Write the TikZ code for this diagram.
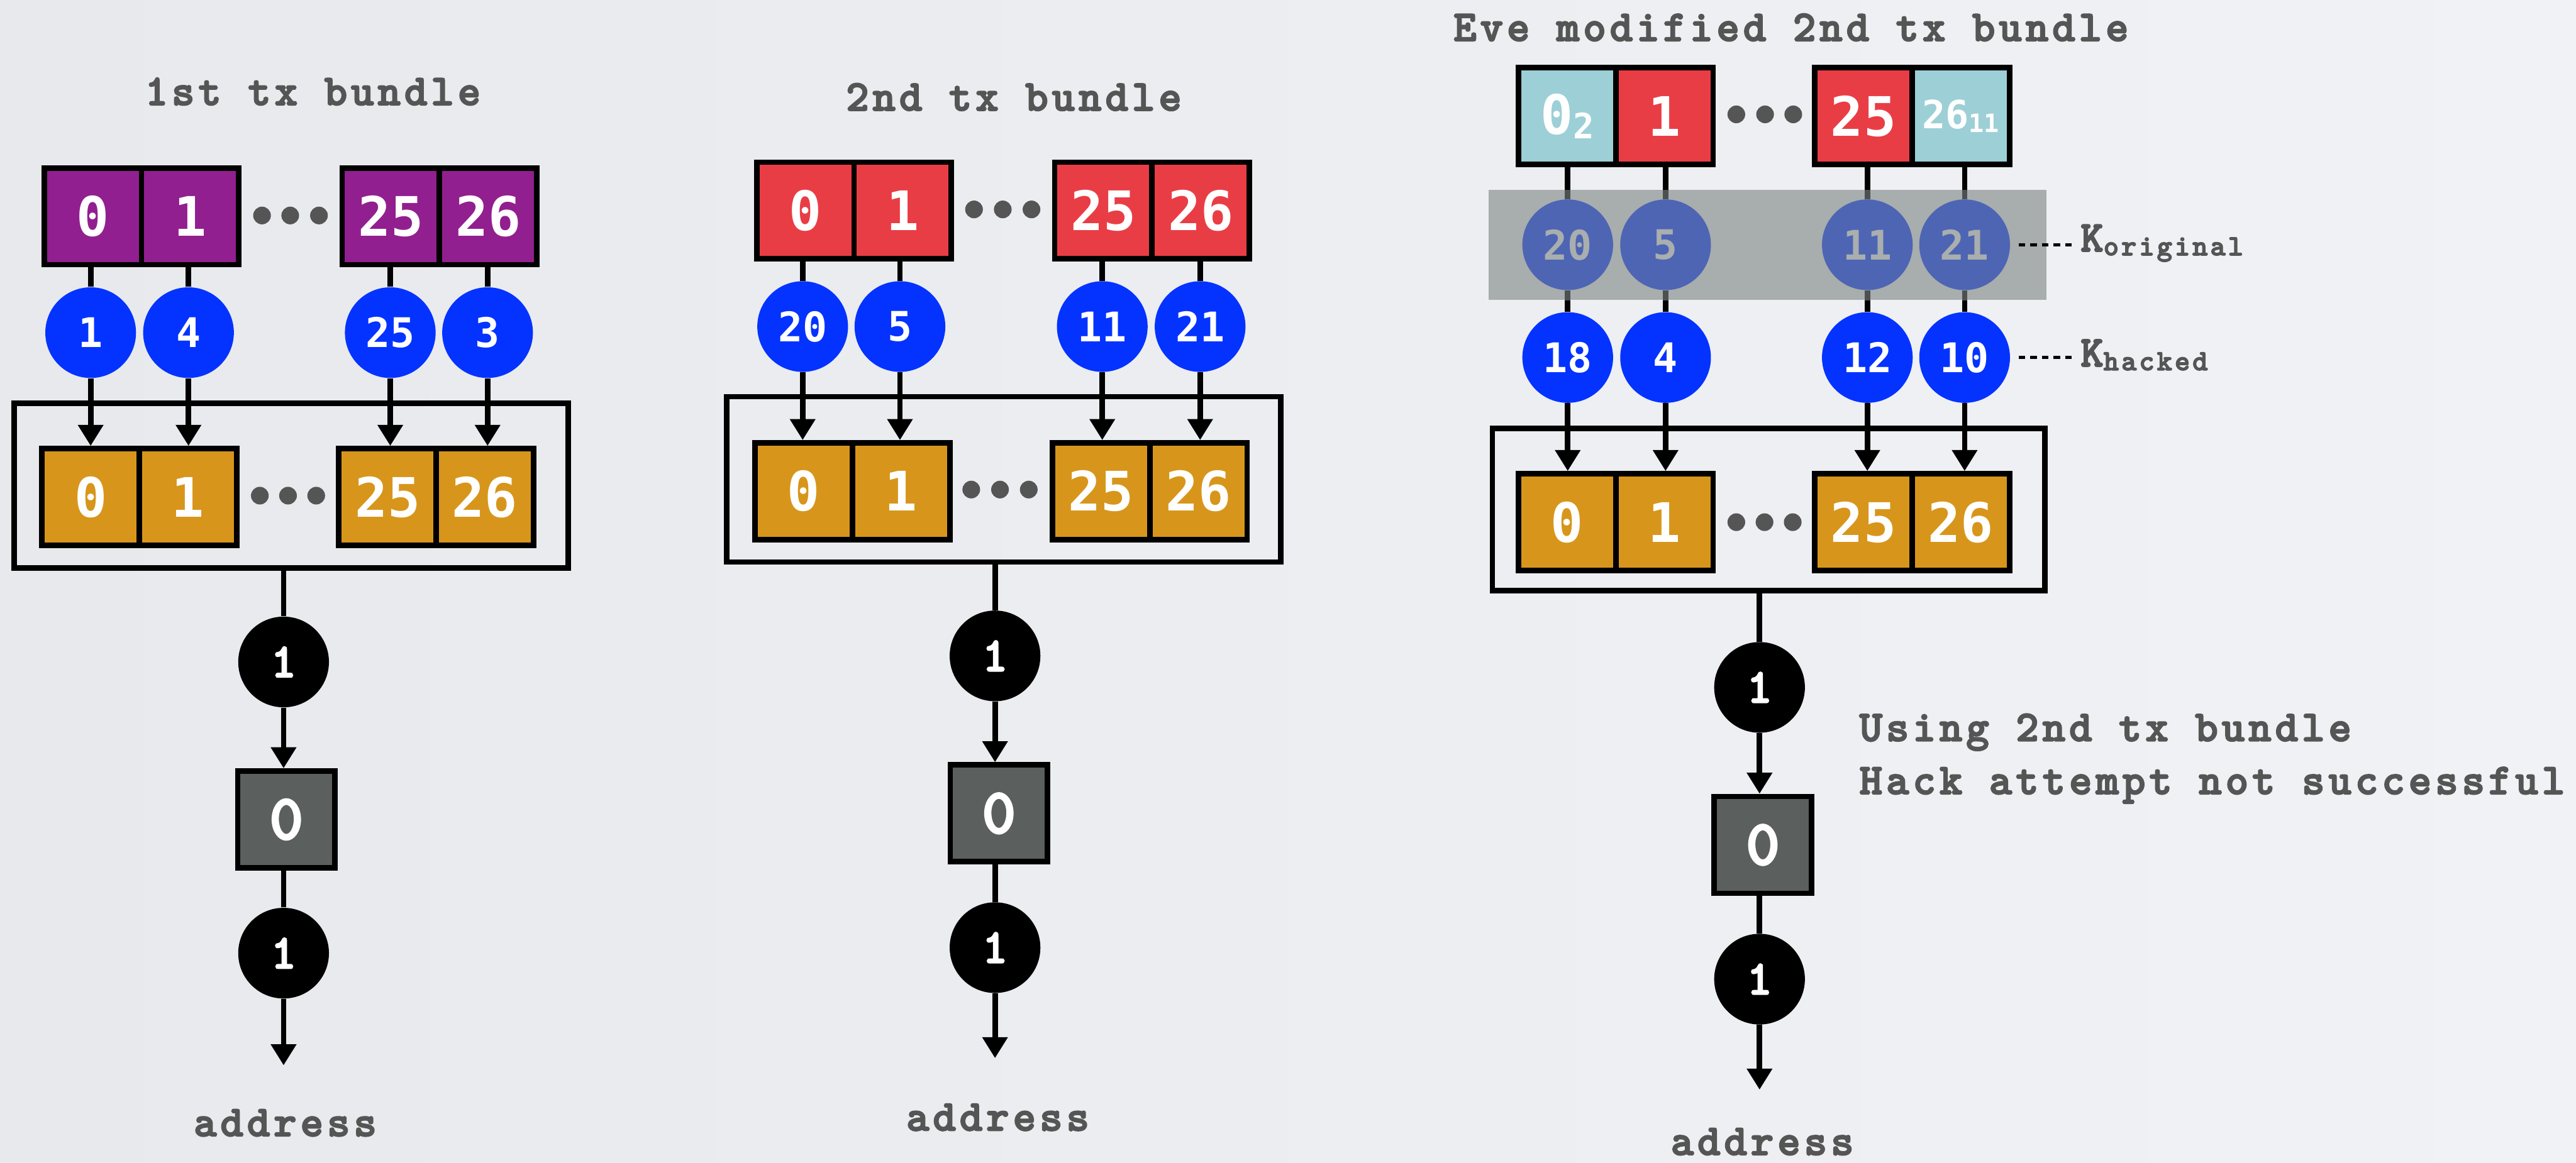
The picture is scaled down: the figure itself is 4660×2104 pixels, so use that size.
\documentclass[tikz,border=0pt]{standalone}
\usepackage{fontspec}
\newfontfamily\numfont{DejaVu Sans Mono}
\newfontfamily\typefont{lmmonolt10-bold.otf}[LetterSpace=8.5, FakeBold=3]
\usetikzlibrary{arrows.meta}

\definecolor{bgleft}{HTML}{E7E9ED}
\definecolor{bgright}{HTML}{F1F2F5}
\definecolor{cpurple}{HTML}{921F8F}
\definecolor{cred}{HTML}{E93D45}
\definecolor{corange}{HTML}{D7961B}
\definecolor{ccyan}{HTML}{9DCFD6}
\definecolor{cblue}{HTML}{0433FF}
\definecolor{cfade}{HTML}{4E65B4}
\definecolor{cfadetext}{HTML}{A9AEAE}
\definecolor{cband}{HTML}{A8ADAD}
\definecolor{cbandline}{HTML}{4D5050}
\definecolor{cgreybox}{HTML}{5B5F5E}
\definecolor{ctext}{HTML}{555555}

\pgfdeclarelayer{bg}
\pgfdeclarelayer{edges}
\pgfdeclarelayer{shade}
\pgfdeclarelayer{shadeedges}
\pgfsetlayers{bg,edges,shade,shadeedges,main}

\tikzset{
  cell/.style={draw=black, line width=0.1cm, minimum width=1.76cm, minimum height=1.75cm,
    inner sep=0pt, text=white, font=\numfont\bfseries\fontsize{28}{30}\selectfont},
  purplecell/.style={cell, fill=cpurple},
  redcell/.style={cell, fill=cred},
  orangecell/.style={cell, fill=corange},
  cyancell/.style={cell, fill=ccyan},
  keycirc/.style={circle, minimum size=1.64cm, inner sep=0pt, fill=cblue, text=white,
    font=\numfont\bfseries\fontsize{21}{24}\selectfont},
  oldkey/.style={keycirc, fill=cfade, text=cfadetext},
  bitcirc/.style={circle, minimum size=1.64cm, inner sep=0pt, fill=black, text=white,
    font=\typefont\fontsize{25}{27}\selectfont},
  outbox/.style={draw=black, line width=0.1cm, fill=cgreybox, minimum width=1.76cm,
    minimum height=1.75cm, inner sep=0pt, text=white,
    font=\typefont\fontsize{33}{35}\selectfont},
  bundlebox/.style={draw=black, line width=0.1cm, inner sep=0pt},
  ellipsisdot/.style={circle, fill=ctext, minimum size=0.32cm, inner sep=0pt},
  caption/.style={text=ctext, font=\typefont\fontsize{22.5}{27}\selectfont, inner sep=0pt},
  link/.style={line width=0.1cm},
  flow/.style={link, -{Triangle[width=0.44cm,length=0.38cm]}},
  keyline/.style={line width=0.06cm, dash pattern=on 0.12cm off 0.09cm},
}

\begin{document}
\begin{tikzpicture}[x=0.01cm, y=-0.01cm]
\useasboundingbox (0,0) rectangle (4660,2104);
\begin{pgfonlayer}{bg}
  \shade[left color=bgleft, right color=bgright] (0,0) rectangle (4660,2104);
\end{pgfonlayer}

% ---------------- first bundle ----------------
\node[caption, anchor=base] (title1) at (566,190) {1st tx bundle};

\node[purplecell] (t1a) at (168,391.5) {0};
\node[purplecell] (t1b) at (344,391.5) {1};
\node[purplecell] (t1c) at (707,391.5) {25};
\node[purplecell] (t1d) at (883,391.5) {26};
\node[ellipsisdot] (t1x) at (474,390) {};
\node[ellipsisdot] (t1y) at (525,390) {};
\node[ellipsisdot] (t1z) at (577,390) {};

\node[keycirc] (k1a) at (164,602) {1};
\node[keycirc] (k1b) at (341,602) {4};
\node[keycirc] (k1c) at (706,602) {25};
\node[keycirc] (k1d) at (882,602) {3};

\node[bundlebox, minimum width=10.02cm, minimum height=2.98cm] (f1) at (527,879) {};
\node[orangecell] (o1a) at (164,899.5) {0};
\node[orangecell] (o1b) at (340,899.5) {1};
\node[orangecell] (o1c) at (701,899.5) {25};
\node[orangecell] (o1d) at (877,899.5) {26};
\node[ellipsisdot] (o1x) at (470,897) {};
\node[ellipsisdot] (o1y) at (521,897) {};
\node[ellipsisdot] (o1z) at (572,897) {};

\node[bitcirc] (b1a) at (513,1198) {1};
\node[outbox] (g1) at (518,1483) {0};
\node[bitcirc] (b1b) at (513,1725) {1};
\coordinate (e1) at (513,1928);
\node[caption, anchor=base] (addr1) at (516,2056) {address};

% ---------------- second bundle ----------------
\node[caption, anchor=base] (title2) at (1834,200) {2nd tx bundle};

\node[redcell] (t2a) at (1457,381) {0};
\node[redcell] (t2b) at (1633,381) {1};
\node[redcell] (t2c) at (1996,381) {25};
\node[redcell] (t2d) at (2172,381) {26};
\node[ellipsisdot] (t2x) at (1762,379) {};
\node[ellipsisdot] (t2y) at (1814,379) {};
\node[ellipsisdot] (t2z) at (1866,379) {};

\node[keycirc] (k2a) at (1452,591) {20};
\node[keycirc] (k2b) at (1628,591) {5};
\node[keycirc] (k2c) at (1994,591) {11};
\node[keycirc] (k2d) at (2171,591) {21};

\node[bundlebox, minimum width=10.02cm, minimum height=2.99cm] (f2) at (1816,867.5) {};
\node[orangecell] (o2a) at (1454,889) {0};
\node[orangecell] (o2b) at (1630,889) {1};
\node[orangecell] (o2c) at (1992,889) {25};
\node[orangecell] (o2d) at (2168,889) {26};
\node[ellipsisdot] (o2x) at (1757,886) {};
\node[ellipsisdot] (o2y) at (1809,886) {};
\node[ellipsisdot] (o2z) at (1861,886) {};

\node[bitcirc] (b2a) at (1800,1187) {1};
\node[outbox] (g2) at (1807,1472) {0};
\node[bitcirc] (b2b) at (1800,1715) {1};
\coordinate (e2) at (1800,1915);
\node[caption, anchor=base] (addr2) at (1805,2046) {address};

% ---------------- modified second bundle ----------------
\node[caption, anchor=base] (title3) at (3240,74) {Eve modified 2nd tx bundle};

\node[cyancell] (t3a) at (2835,210) {0\raisebox{-0.08cm}{\fontsize{18}{18}\selectfont 2}};
\node[redcell]  (t3b) at (3011,210) {1};
\node[redcell]  (t3c) at (3371,210) {25};
\node[cyancell] (t3d) at (3547,210) {\fontsize{20}{20}\selectfont 26\raisebox{-0.06cm}{\fontsize{13}{13}\selectfont 11}};
\node[ellipsisdot] (t3x) at (3141,207) {};
\node[ellipsisdot] (t3y) at (3193,207) {};
\node[ellipsisdot] (t3z) at (3244,207) {};

\node[oldkey] (q3a) at (2836,443) {20};
\node[oldkey] (q3b) at (3013,443) {5};
\node[oldkey] (q3c) at (3378,443) {11};
\node[oldkey] (q3d) at (3554,443) {21};

\node[keycirc] (k3a) at (2836,647) {18};
\node[keycirc] (k3b) at (3013,647) {4};
\node[keycirc] (k3c) at (3378,647) {12};
\node[keycirc] (k3d) at (3554,647) {10};

\node[caption, anchor=base west] (korig) at (3763,455)
  {K\raisebox{-0.07cm}{\fontsize{15}{15}\selectfont original}};
\node[caption, anchor=base west] (khack) at (3763,663)
  {K\raisebox{-0.07cm}{\fontsize{15}{15}\selectfont hacked}};

\node[bundlebox, minimum width=9.99cm, minimum height=2.94cm] (f3) at (3199.5,922) {};
\node[orangecell] (o3a) at (2835,945) {0};
\node[orangecell] (o3b) at (3011,945) {1};
\node[orangecell] (o3c) at (3371,945) {25};
\node[orangecell] (o3d) at (3547,945) {26};
\node[ellipsisdot] (o3x) at (3141,945) {};
\node[ellipsisdot] (o3y) at (3192,945) {};
\node[ellipsisdot] (o3z) at (3243,945) {};

\node[bitcirc] (b3a) at (3183,1244) {1};
\node[outbox] (g3) at (3189,1529) {0};
\node[bitcirc] (b3b) at (3183,1772) {1};
\coordinate (e3) at (3183,1972);
\node[caption, anchor=base] (addr3) at (3188,2090) {address};

\node[caption, anchor=base west] (note1) at (3363,1341) {Using 2nd tx bundle};
\node[caption, anchor=base west] (note2) at (3363,1437) {Hack attempt not successful};

% ---------------- connectors ----------------
\begin{pgfonlayer}{edges}
  \foreach \p in {1,2} {
    \foreach \c in {a,b,c,d} {
      \draw[link] (k\p\c |- t\p\c.south) -- (k\p\c.north);
      \draw[flow] (k\p\c.south) -- (k\p\c |- o\p\c.north);
    }
  }
  \foreach \c in {a,b,c,d} {
    \draw[link] (q3\c |- t3\c.south) -- (q3\c.north);
    \draw[link] (q3\c.south) -- (k3\c.north);
    \draw[flow] (k3\c.south) -- (k3\c |- o3\c.north);
  }
  \foreach \p in {1,2,3} {
    \draw[link] (b\p a |- f\p.south) -- (b\p a.north);
    \draw[flow] (b\p a.south) -- (b\p a |- g\p.north);
    \draw[link] (b\p b |- g\p.south) -- (b\p b.north);
    \draw[flow] (b\p b.south) -- (e\p);
  }
\end{pgfonlayer}

% grey band over the original keys
\begin{pgfonlayer}{shade}
  \fill[cband] (2693,344) rectangle (3702,543);
\end{pgfonlayer}
\begin{pgfonlayer}{shadeedges}
  \begin{scope}
    \clip (2693,344) rectangle (3702,543);
    \foreach \c in {a,b,c,d} {
      \draw[link, cbandline] (q3\c |- t3\c.south) -- (q3\c.north);
      \draw[link, cbandline] (q3\c.south) -- (k3\c.north);
    }
  \end{scope}
  \draw[keyline, shorten <=0.15cm, shorten >=0.16cm] (q3d.east) -- (q3d.east -| korig.west);
  \draw[keyline, shorten <=0.15cm, shorten >=0.16cm] (k3d.east) -- (k3d.east -| khack.west);
\end{pgfonlayer}
\end{tikzpicture}
\end{document}
